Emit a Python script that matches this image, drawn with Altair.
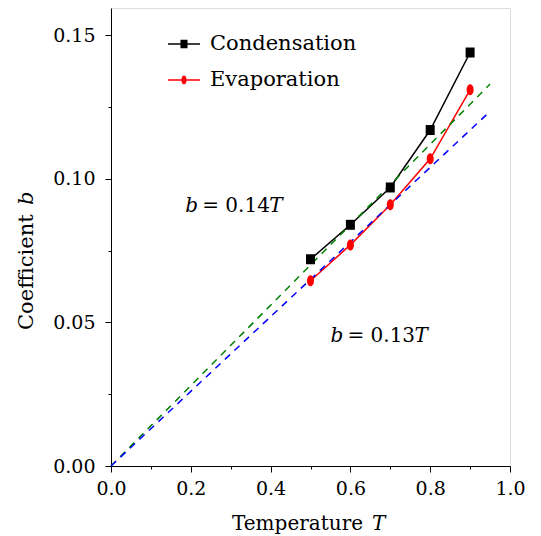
import altair as alt
import pandas as pd

# ---- data ----
temps = [0.5, 0.6, 0.7, 0.8, 0.9]
condensation = [0.072, 0.084, 0.097, 0.117, 0.144]
evaporation = [0.0645, 0.077, 0.091, 0.107, 0.131]
series_names = ["Condensation", "Evaporation"]
series_colors = ["black", "red"]

fit_T = [0.0, 0.95]
fit_014 = [0.0, 0.133]    # b = 0.14T
fit_013 = [0.0, 0.1235]   # b = 0.13T

x_ticks = [round(0.1 * i, 1) for i in range(11)]
y_ticks = [round(0.025 * i, 3) for i in range(7)]

FONT = "DejaVu Serif"
TICK_FS = 19
TXT_FS = 20
LEG_FS = 21

cond_df = pd.DataFrame({"T": temps, "b": condensation, "series": series_names[0]})
evap_df = pd.DataFrame({"T": temps, "b": evaporation, "series": series_names[1]})
all_df = pd.concat([cond_df, evap_df], ignore_index=True)
fit1_df = pd.DataFrame({"T": fit_T, "b": fit_014})
fit2_df = pd.DataFrame({"T": fit_T, "b": fit_013})

xaxis = alt.Axis(
    values=x_ticks, title=None, grid=False,
    labelExpr="round(datum.value*10) % 2 == 0 ? format(datum.value, '.1f') : ''",
    tickSize={"condition": {"test": "round(datum.value*10) % 2 == 0", "value": 6}, "value": 3},
    labelFont=FONT, labelFontSize=TICK_FS, labelColor="black", labelPadding=7,
    domainColor="black", tickColor="black", labelFlush=False, labelOverlap=False,
)
yaxis = alt.Axis(
    values=y_ticks, title=None, grid=False,
    labelExpr="round(datum.value*40) % 2 == 0 ? format(datum.value, '.2f') : ''",
    tickSize={"condition": {"test": "round(datum.value*40) % 2 == 0", "value": 6}, "value": 3},
    labelFont=FONT, labelFontSize=TICK_FS, labelColor="black", labelPadding=10,
    domainColor="black", tickColor="black", labelFlush=False, labelOverlap=False,
)

X = alt.X("T:Q", scale=alt.Scale(domain=[0, 1.0], nice=False, zero=False), axis=xaxis)
Y = alt.Y("b:Q", scale=alt.Scale(domain=[0, 0.1595], nice=False, zero=False), axis=yaxis)

SQUARE = "M-0.9,-1H0.9V1H-0.9Z"
ELLIPSE = "M0,-1A0.64,1 0 1,1 0,1A0.64,1 0 1,1 0,-1Z"
LEG_SQUARE = "M-1,-0.05H-0.2V0.05H-1Z M0.2,-0.05H1V0.05H0.2Z M-0.22,-0.27H0.22V0.27H-0.22Z"
LEG_ELLIPSE = ("M-1,-0.05H-0.15V0.05H-1Z M0.15,-0.05H1V0.05H0.15Z "
               "M0,-0.28A0.16,0.28 0 1,1 0,0.28A0.16,0.28 0 1,1 0,-0.28Z")

cond_line = alt.Chart(cond_df).mark_line(color="black", strokeWidth=1.5).encode(x=X, y=Y)
evap_line = alt.Chart(evap_df).mark_line(color="red", strokeWidth=1.5).encode(x=X, y=Y)
fit1 = alt.Chart(fit1_df).mark_line(color="green", strokeWidth=1.5, strokeDash=[7, 6]).encode(x=X, y=Y)
fit2 = alt.Chart(fit2_df).mark_line(color="blue", strokeWidth=1.5, strokeDash=[7, 6]).encode(x=X, y=Y)
cond_pts = alt.Chart(cond_df).mark_point(shape=SQUARE, filled=True, color="black", size=100, opacity=1).encode(x=X, y=Y)
evap_pts = alt.Chart(evap_df).mark_point(shape=ELLIPSE, filled=True, color="red", size=121, opacity=1).encode(x=X, y=Y)

leg = alt.Legend(
    title=None, orient="none", legendX=57, legendY=20, padding=0,
    symbolSize=1024, symbolStrokeWidth=0, symbolOpacity=1,
    labelFont=FONT, labelFontSize=LEG_FS, labelColor="black", labelOffset=10,
    rowPadding=10,
)
legend_layer = alt.Chart(all_df).mark_point(filled=True, opacity=0).encode(
    x=X, y=Y,
    color=alt.Color("series:N", scale=alt.Scale(domain=series_names, range=series_colors), legend=leg),
    shape=alt.Shape("series:N", scale=alt.Scale(domain=series_names, range=[LEG_SQUARE, LEG_ELLIPSE]), legend=leg),
)

# annotations (data coordinates of the left end of each formula)
ann_df = pd.DataFrame({"T": [0.186, 0.55], "b": [0.0884, 0.0432],
                       "mid": ["= 0.14", "= 0.13"]})
ann_b = alt.Chart(ann_df).mark_text(align="left", baseline="alphabetic", font=FONT, fontSize=TXT_FS,
                                    fontStyle="italic", color="black").encode(x=X, y=Y, text=alt.value("b"))
ann_mid = alt.Chart(ann_df).mark_text(align="left", baseline="alphabetic", font=FONT, fontSize=TXT_FS,
                                      color="black", dx=17).encode(x=X, y=Y, text="mid:N")
ann_T = alt.Chart(ann_df).mark_text(align="left", baseline="alphabetic", font=FONT, fontSize=TXT_FS,
                                    fontStyle="italic", color="black", dx=84).encode(x=X, y=Y, text=alt.value("T"))

one = pd.DataFrame({"k": [0]})
xt1 = alt.Chart(one).mark_text(align="left", baseline="alphabetic", font=FONT, fontSize=TXT_FS, color="black").encode(
    x=alt.value(121), y=alt.value(522), text=alt.value("Temperature"))
xt2 = alt.Chart(one).mark_text(align="left", baseline="alphabetic", font=FONT, fontSize=TXT_FS, color="black",
                               fontStyle="italic").encode(x=alt.value(261), y=alt.value(522), text=alt.value("T"))
yt1 = alt.Chart(one).mark_text(align="left", baseline="alphabetic", font=FONT, fontSize=21, color="black",
                               angle=270).encode(x=alt.value(-78), y=alt.value(322), text=alt.value("Coefficient"))
yt2 = alt.Chart(one).mark_text(align="left", baseline="alphabetic", font=FONT, fontSize=21, color="black",
                               angle=270, fontStyle="italic").encode(x=alt.value(-78), y=alt.value(197), text=alt.value("b"))

chart = alt.layer(
    cond_line, evap_line, fit1, fit2, cond_pts, evap_pts, legend_layer,
    ann_b, ann_mid, ann_T, xt1, xt2, yt1, yt2,
).properties(
    width=399, height=458,
    autosize=alt.AutoSizeParams(type="none"),
    padding={"left": 103, "top": 0, "right": 20, "bottom": 70},
).configure_view(stroke="#222", strokeWidth=1.2).configure(background="white")

chart.save("out.html", embed_options={"renderer": "svg", "actions": False})
